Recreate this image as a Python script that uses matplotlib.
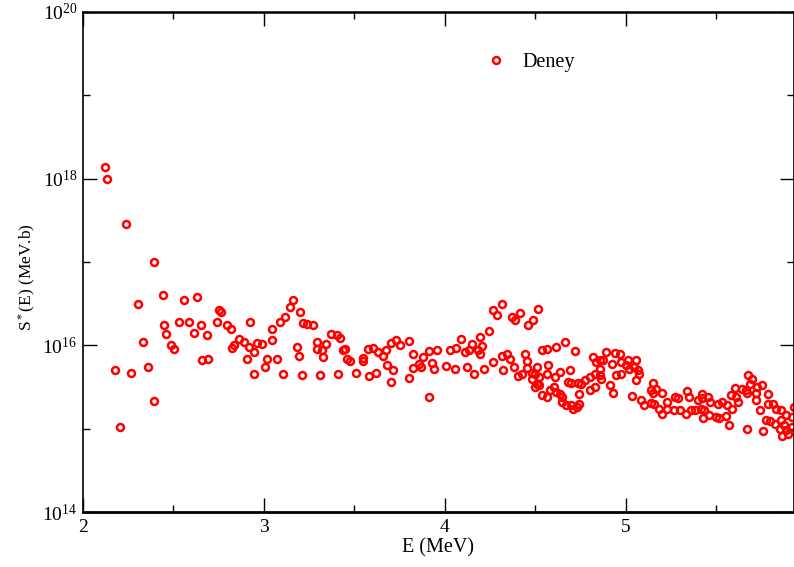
import numpy as np
import matplotlib
matplotlib.use("Agg")
import matplotlib.pyplot as plt
from matplotlib.ticker import FixedLocator, LogFormatterMathtext, NullFormatter

plt.rcParams['font.family'] = ['Liberation Serif', 'DejaVu Serif']
plt.rcParams['mathtext.fontset'] = 'custom'
plt.rcParams['mathtext.rm'] = 'Liberation Serif'
plt.rcParams['mathtext.it'] = 'Liberation Serif:italic'
plt.rcParams['mathtext.bf'] = 'Liberation Serif:bold'

# Energy (MeV)
E = [2.122, 2.131, 2.239, 2.394, 2.440, 2.302, 2.558, 2.631, 2.751, 2.761,
     2.449, 2.532, 2.587, 2.650, 2.459, 2.615, 2.687, 2.742, 2.797, 2.816,
     2.924, 3.044, 2.331, 2.486, 2.504, 2.825, 2.834, 2.862, 2.890, 2.917,
     2.943, 2.961, 2.989, 3.044, 2.659, 2.689, 2.908, 3.017, 2.175, 2.267,
     2.357, 2.943, 3.007, 2.394, 2.203,
     3.162, 3.144, 3.199, 3.116, 3.090, 3.214, 3.236, 3.272, 3.372, 3.402,
     3.420, 3.291, 3.346, 3.182, 3.291, 3.319, 3.448, 3.436, 3.192, 3.328,
     3.072, 3.457, 3.475, 3.547, 3.547, 3.573, 3.604, 3.631, 3.659, 3.676,
     3.702, 3.729, 3.750, 3.803, 3.822, 3.877, 3.913, 3.957, 4.028, 3.683,
     3.713, 3.822, 3.856, 3.871, 3.930, 3.939, 4.004, 3.107, 3.208, 3.309,
     3.410, 3.510, 3.582, 3.620, 3.803, 3.702, 3.913,
     4.315, 4.269, 4.289, 4.516, 4.370, 4.388, 4.416, 4.490, 4.462, 4.243,
     4.195, 4.087, 4.061, 4.114, 4.133, 4.151, 4.186, 4.206, 4.197, 4.269,
     4.315, 4.343, 4.361, 4.380, 4.444, 4.453, 4.453, 4.536, 4.564, 4.617,
     4.663, 4.718, 4.571, 4.059, 4.123, 4.160, 4.215, 4.324, 4.407, 4.425,
     4.481, 4.508, 4.499, 4.518, 4.564, 4.637, 4.691, 4.609, 4.481, 4.508,
     4.518, 4.499, 4.681, 4.700, 4.735, 4.753, 4.773, 4.801, 4.829, 4.856,
     4.866, 4.801, 4.829, 4.912, 4.932, 4.946, 4.838, 4.856, 4.856, 4.875,
     4.819, 4.891, 4.938, 4.923, 4.536, 4.564, 4.582, 4.601, 4.617, 4.635,
     4.645, 4.646, 4.672, 4.700, 4.709, 4.728, 4.744, 4.744,
     4.967, 4.972, 5.011, 5.055, 5.002, 5.046, 5.018, 5.066, 5.076, 4.972,
     5.055, 5.148, 5.138, 5.166, 5.148, 5.201, 5.037, 5.085, 5.103, 5.140,
     5.156, 5.184, 5.201, 5.230, 5.228, 5.265, 5.272, 5.291, 5.302, 5.335,
     5.363, 5.381, 5.339, 5.348, 5.402, 5.420, 5.424, 5.414, 5.433, 5.425,
     5.457, 5.464, 5.460, 5.497, 5.512, 5.534, 5.514, 5.556, 5.560, 5.587,
     5.569, 5.584, 5.612, 5.620, 5.602, 5.641, 5.663, 5.676, 5.687, 5.670,
     5.700, 5.725, 5.751, 5.718, 5.718, 5.669, 5.759, 5.788, 5.788, 5.742,
     5.814, 5.833, 5.860, 5.884, 5.928, 5.777, 5.796, 5.823, 5.860, 5.875,
     5.851, 5.888, 5.866, 5.899, 5.917, 5.917]

# log10 of S*(E) in MeV.b
log10_S = [18.14, 18.00, 17.46, 17.00, 16.60, 16.50, 16.54, 16.58, 16.42, 16.40,
           16.24, 16.28, 16.28, 16.24, 16.13, 16.15, 16.12, 16.28, 16.24, 16.20,
           16.28, 16.20, 16.04, 16.00, 15.95, 15.97, 16.00, 16.08, 16.04, 15.98,
           15.92, 16.03, 16.02, 16.06, 15.82, 15.84, 15.84, 15.84, 15.70, 15.67,
           15.74, 15.66, 15.74, 15.33, 15.02,
           16.54, 16.46, 16.40, 16.34, 16.28, 16.27, 16.26, 16.24, 16.13, 16.12,
           16.09, 16.04, 16.02, 15.98, 15.95, 15.94, 15.96, 15.94, 15.87, 15.86,
           15.84, 15.83, 15.81, 15.85, 15.81, 15.95, 15.97, 15.92, 15.87, 15.94,
           16.03, 16.06, 16.00, 16.05, 15.90, 15.86, 15.93, 15.94, 15.94, 15.76,
           15.70, 15.73, 15.78, 15.74, 15.79, 15.72, 15.75, 15.66, 15.64, 15.64,
           15.65, 15.67, 15.63, 15.67, 15.61, 15.56, 15.38,
           16.50, 16.42, 16.36, 16.44, 16.34, 16.30, 16.39, 16.30, 16.24, 16.17,
           16.10, 16.08, 15.97, 15.92, 15.94, 16.02, 15.94, 15.99, 15.89, 15.80,
           15.87, 15.89, 15.83, 15.74, 15.89, 15.81, 15.73, 15.94, 15.96, 15.98,
           16.04, 15.93, 15.76, 15.71, 15.74, 15.66, 15.72, 15.70, 15.63, 15.66,
           15.67, 15.74, 15.65, 15.62, 15.65, 15.68, 15.70, 15.62, 15.60, 15.54,
           15.52, 15.50, 15.56, 15.55, 15.55, 15.54, 15.58, 15.62, 15.66, 15.64,
           15.60, 15.46, 15.50, 15.52, 15.43, 15.64, 15.80, 15.72, 15.82, 15.82,
           15.86, 15.92, 15.91, 15.78, 15.40, 15.38, 15.46, 15.50, 15.44, 15.42,
           15.38, 15.32, 15.28, 15.28, 15.24, 15.26, 15.30, 15.42,
           15.90, 15.80, 15.82, 15.82, 15.76, 15.74, 15.71, 15.70, 15.65, 15.66,
           15.58, 15.55, 15.46, 15.48, 15.43, 15.43, 15.39, 15.34, 15.28, 15.31,
           15.30, 15.24, 15.17, 15.32, 15.24, 15.22, 15.38, 15.37, 15.22, 15.18,
           15.22, 15.22, 15.45, 15.38, 15.34, 15.42, 15.37, 15.24, 15.22, 15.13,
           15.38, 15.32, 15.16, 15.14, 15.30, 15.32, 15.13, 15.15, 15.28, 15.23,
           15.04, 15.40, 15.38, 15.32, 15.49, 15.47, 15.46, 15.64, 15.54, 15.43,
           15.59, 15.50, 15.52, 15.43, 15.34, 15.00, 14.97, 15.41, 15.30, 15.22,
           15.30, 15.23, 15.22, 15.16, 15.26, 15.10, 15.09, 15.06, 15.10, 15.04,
           15.00, 14.98, 14.91, 14.94, 15.14, 15.02]

S = 10.0 ** np.array(log10_S)

x_major = [2, 3, 4, 5]
x_minor = [2.5, 3.5, 4.5, 5.5]
y_major = [1e14, 1e16, 1e18, 1e20]
y_minor = [1e15, 1e17, 1e19]

fig = plt.figure(figsize=(7.94, 5.67), dpi=100)
ax = fig.add_axes([0.1045, 0.097, 0.8955, 0.882])

ax.plot(E, S, linestyle='none', marker='o', markersize=5.0,
        markerfacecolor='none', markeredgecolor='#ff0000', markeredgewidth=1.8,
        label='Deney', clip_on=True)

ax.set_yscale('log')
ax.set_xlim(2, 5.93)
ax.set_ylim(1e14, 1e20)

ax.xaxis.set_major_locator(FixedLocator(x_major))
ax.xaxis.set_minor_locator(FixedLocator(x_minor))
ax.yaxis.set_major_locator(FixedLocator(y_major))
ax.yaxis.set_minor_locator(FixedLocator(y_minor))
ax.yaxis.set_major_formatter(LogFormatterMathtext())
ax.yaxis.set_minor_formatter(NullFormatter())

ax.tick_params(which='both', direction='in', top=True, right=True,
               labelsize=14, width=1.0, colors='black')
ax.tick_params(which='major', length=10)
ax.tick_params(which='minor', length=5)
ax.tick_params(axis='x', pad=5)
ax.tick_params(axis='y', pad=4)

for sp in ax.spines.values():
    sp.set_linewidth(1.2)
ax.spines['bottom'].set_linewidth(2.0)
ax.spines['top'].set_linewidth(1.8)

ax.set_xlabel('E (MeV)', fontsize=14.5, labelpad=2)
ax.set_ylabel(r'S$^*$(E) (MeV.b)', fontsize=12.5)
ax.yaxis.set_label_coords(-0.063, 0.47)

ax.legend(loc='center left', bbox_to_anchor=(0.567, 0.898), frameon=False,
          numpoints=1, handlelength=1.0, handletextpad=0.79, borderpad=0,
          borderaxespad=0, fontsize=14.5)

fig.savefig('out.png', dpi=100)
